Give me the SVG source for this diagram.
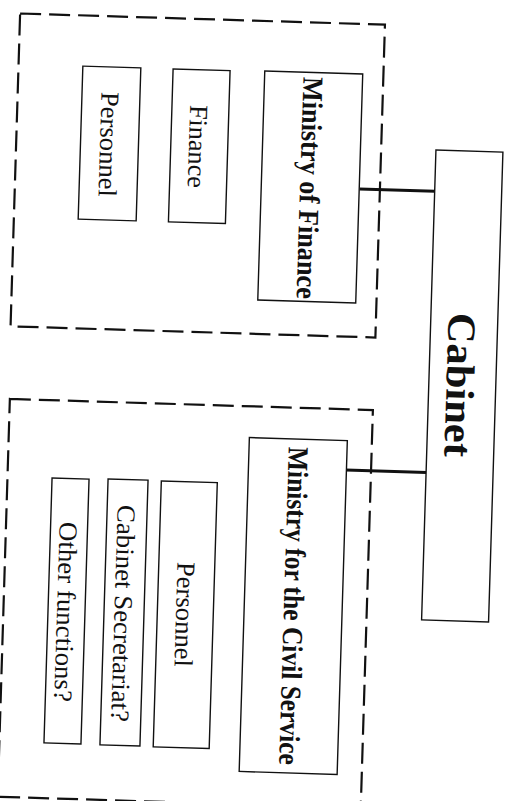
<svg xmlns="http://www.w3.org/2000/svg" width="510" height="801" viewBox="0 0 510 801">
<style>
.bg{fill:#ffffff}
.box{fill:#ffffff;stroke:#111111;stroke-width:1.4}
.grp{fill:none;stroke:#111111;stroke-width:2.2;stroke-dasharray:21 8}
.conn{stroke:#111111;stroke-width:3;fill:none}
.t{font-family:"Liberation Serif","Times New Roman",serif;fill:#111111;text-anchor:middle;dominant-baseline:central}
.reg{font-size:26px}
.bold{font-size:29px;font-weight:bold}
.cab{font-size:40px;font-weight:bold}
</style>
<rect class="bg" x="0" y="0" width="510" height="801"/>
<g id="group-finance">
<rect class="grp" x="15.25" y="19" width="365" height="313" transform="rotate(1.75 197.75 175.5)"/>
</g>
<g id="group-civil-service">
<rect class="grp" x="3.7" y="404.4" width="363.2" height="398" transform="rotate(1.75 185.3 603.4)"/>
</g>
<g id="connectors">
<line class="conn" x1="359.5" y1="189" x2="435" y2="191.3"/>
<line class="conn" x1="346" y1="470" x2="426.5" y2="472.4"/>
</g>
<g id="cabinet">
<rect class="box" x="428.75" y="151" width="67" height="470" transform="rotate(1.75 462.25 386)"/>
<text class="t cab" x="460" y="385" textLength="144" lengthAdjust="spacingAndGlyphs" transform="rotate(91.75 460 385)">Cabinet</text>
</g>
<g id="ministry-of-finance">
<rect class="box" x="261.25" y="72.5" width="98" height="229" transform="rotate(1.75 310.25 187)"/>
<text class="t bold" x="310" y="188" textLength="222" lengthAdjust="spacingAndGlyphs" transform="rotate(91.75 310 188)">Ministry of Finance</text>
</g>
<g id="finance">
<rect class="box" x="170.75" y="69.75" width="57" height="153" transform="rotate(1.75 199.25 146.25)"/>
<text class="t reg" x="197.5" y="146.5" textLength="83" lengthAdjust="spacingAndGlyphs" transform="rotate(91.75 197.5 146.5)">Finance</text>
</g>
<g id="personnel-finance">
<rect class="box" x="80.5" y="67" width="58" height="153" transform="rotate(1.75 109.5 143.5)"/>
<text class="t reg" x="108.5" y="144.5" textLength="105" lengthAdjust="spacingAndGlyphs" transform="rotate(91.75 108.5 144.5)">Personnel</text>
</g>
<g id="ministry-civil-service">
<rect class="box" x="244.25" y="439" width="98" height="334" transform="rotate(1.75 293.25 606)"/>
<text class="t bold" x="294" y="606" textLength="318" lengthAdjust="spacingAndGlyphs" transform="rotate(91.75 294 606)">Ministry for the Civil Service</text>
</g>
<g id="personnel-cs">
<rect class="box" x="157.25" y="481.75" width="56" height="266" transform="rotate(1.75 185.25 614.75)"/>
<text class="t reg" x="184.5" y="614.5" textLength="105" lengthAdjust="spacingAndGlyphs" transform="rotate(91.75 184.5 614.5)">Personnel</text>
</g>
<g id="cabinet-secretariat">
<rect class="box" x="104" y="479.5" width="40" height="266" transform="rotate(1.75 124 612.5)"/>
<text class="t reg" x="123" y="613.5" textLength="217" lengthAdjust="spacingAndGlyphs" transform="rotate(91.75 123 613.5)">Cabinet Secretariat?</text>
</g>
<g id="other-functions">
<rect class="box" x="48" y="478.5" width="37" height="265" transform="rotate(1.75 66.5 611)"/>
<text class="t reg" x="65.5" y="612" textLength="180" lengthAdjust="spacingAndGlyphs" transform="rotate(91.75 65.5 612)">Other functions?</text>
</g>
</svg>
